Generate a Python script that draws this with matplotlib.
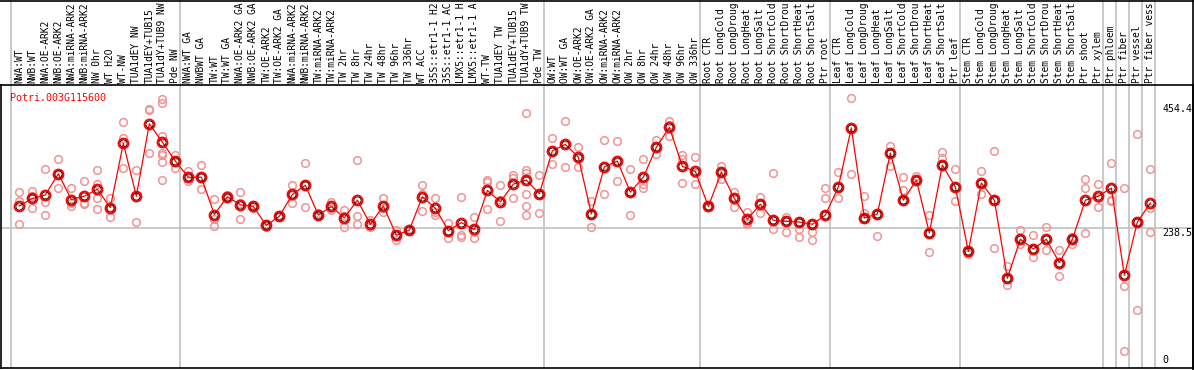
import matplotlib.pyplot as plt
from matplotlib.lines import Line2D

# sample names written along the top (cut to the 14 characters that show)
labels = ["NWA:WT", "NWB:WT", "NWA:OE-ARK2", "NWB:OE-ARK2", "NWA:miRNA-ARK2",
          "NWB:miRNA-ARK2", "NW 0hr", "WT H2O", "WT-NW", "TUA1dEY NW",
          "TUA1dEY+TUB15", "TUA1dY+TUB9 NW", "Pde NW",
          "NWA:WT GA", "NWBWT GA", "TW:WT", "TW:WT GA", "NWA:OE-ARK2 GA",
          "NWB:OE-ARK2 GA", "TW:OE-ARK2", "TW:OE-ARK2 GA", "NWA:miRNA-ARK2",
          "NWB:miRNA-ARK2", "TW:miRNA-ARK2", "TW:miRNA-ARK2", "TW 2hr",
          "TW 8hr", "TW 24hr", "TW 48hr", "TW 96hr", "TW 336hr", "WT ACC",
          "35S::etr1-1 H2", "35S::etr1-1 AC", "LMX5::etr1-1 H",
          "LMX5::etr1-1 A", "WT-TW", "TUA1dEY TW", "TUA1dEY+TUB15",
          "TUA1dY+TUB9 TW", "Pde TW",
          "OW:WT", "OW:WT GA", "OW:OE-ARK2", "OW:OE-ARK2 GA", "OW:miRNA-ARK2",
          "OW:miRNA-ARK2", "OW 2hr", "OW 8hr", "OW 24hr", "OW 48hr",
          "OW 96hr", "OW 336hr",
          "Root CTR", "Root LongCold", "Root LongDroug", "Root LongHeat",
          "Root LongSalt", "Root ShortCold", "Root ShortDrou",
          "Root ShortHeat", "Root ShortSalt", "Ptr root",
          "Leaf CTR", "Leaf LongCold", "Leaf LongDroug", "Leaf LongHeat",
          "Leaf LongSalt", "Leaf ShortCold", "Leaf ShortDrou",
          "Leaf ShortHeat", "Leaf ShortSalt", "Ptr leaf",
          "Stem CTR", "Stem LongCold", "Stem LongDroug", "Stem LongHeat",
          "Stem LongSalt", "Stem ShortCold", "Stem ShortDrou",
          "Stem ShortHeat", "Stem ShortSalt", "Ptr shoot", "Ptr xylem",
          "Ptr phloem", "Ptr fiber", "Ptr vessel", "Ptr fiber vess"]

# mean value of each sample (red line)
means = [277, 290, 296, 333, 288, 294, 306, 274, 386, 294,
         420, 388, 355,
         327, 327, 262, 293, 279, 276, 243, 259, 297, 313, 261, 276,
         256, 287, 245, 277, 226, 235, 293, 273, 234, 248, 236, 304,
         284, 315, 322, 298,
         373, 384, 362, 263, 345, 355, 301, 327, 379, 414, 346, 337,
         276, 336, 290, 254, 280, 252, 250, 249, 245, 261,
         310, 413, 256, 263, 369, 287, 322, 230, 348, 310,
         198, 317, 287, 151, 219, 202, 219, 178, 219, 287, 294,
         308, 156, 249, 282]

# single replicates (pale circles)
reps = [[301, 285, 245], [303, 295, 273], [341, 284, 261], [359, 308, 332],
        [308, 282, 276], [320, 282, 280], [339, 315, 291, 271], [291, 257, 275],
        [423, 395, 343], [339, 249, 293], [446, 444, 369],
        [463, 456, 398, 369, 365, 353, 322], [366, 343, 356],
        [338, 321, 327], [348, 306, 327], [289, 255, 242], [293, 296, 290],
        [301, 254, 282], [278, 274, 275], [245, 241, 243], [259, 261, 258],
        [313, 282, 296], [351, 275, 314], [265, 259, 261], [283, 270, 274],
        [270, 240, 260], [357, 259, 245], [253, 241, 242], [291, 267, 274],
        [235, 217, 227], [236, 233, 236], [313, 268, 298], [290, 261, 267],
        [248, 233, 221], [292, 226, 222], [257, 221, 232], [319, 271, 322],
        [313, 288, 251], [331, 290, 325],
        [439, 339, 335, 298, 277, 261], [331, 265, 298],
        [396, 350, 372], [425, 345, 383], [380, 345, 361], [286, 240, 263],
        [391, 298, 346], [390, 320, 354], [341, 261, 301], [359, 315, 308],
        [391, 367, 379], [425, 399, 418], [365, 358, 317], [362, 315, 334],
        [277, 275, 276], [347, 323, 337], [302, 275, 293], [267, 245, 248],
        [293, 265, 282], [335, 237, 252], [258, 232, 250], [237, 222, 249],
        [218, 232, 245], [308, 290, 261],
        [336, 290, 310], [465, 333, 413], [295, 265, 256], [224, 263, 263],
        [382, 346, 369], [327, 304, 287], [329, 322, 322], [262, 196, 230],
        [371, 361, 348], [341, 285, 310],
        [197, 193, 198], [338, 298, 317], [373, 204, 287], [172, 139, 151],
        [235, 210, 219], [226, 188, 202], [240, 200, 219], [200, 155, 178],
        [223, 210, 219], [323, 309, 229], [316, 275, 291],
        [351, 285, 287], [309, 137, 24], [403, 95, 249], [341, 273, 232]]

# first sample of each grey-lined block, last entry closes the chart
group_starts = [0, 13, 41, 53, 63, 73, 84, 85, 86, 87, 88]

gene = "Potri.003G115600"
ytick_vals = [454.4, 238.5, 0]
ytick_text = ["454.4", "238.5", "0"]

mono = "DejaVu Sans Mono"
grey = "#c0c0c0"

fig = plt.figure(figsize=(11.94, 3.70), dpi=100)
ax = fig.add_axes([1 / 1194, 2 / 370, 1192 / 1194, 283 / 370])

x = list(range(len(labels)))

# grey separators, running all the way up through the labels
for g in group_starts:
    ax.axvline(g - 0.65, ymin=0, ymax=368 / 283, color=grey, lw=1.2, clip_on=False, zorder=0)
ax.axhline(238.5, color=grey, lw=1.2, zorder=0)

# replicates first so the means sit on top
for i in x:
    ax.plot([i] * len(reps[i]), reps[i], "o", ls="none", ms=5.5, mfc="none",
            mec="#f09494", mew=1.1, zorder=2)

# mean line, red ring with a dark inner ring
ax.plot(x, means, color="red", lw=0.9, marker="o", ms=7.2, mfc="none",
        mec="red", mew=1.3, zorder=3)
ax.plot(x, means, ls="none", marker="o", ms=5.2, mfc="none",
        mec="#400000", mew=0.7, zorder=4)

ax.set_xlim(-1.41, 90.28)
ax.set_ylim(-5.2, 487.5)
ax.set_xticks([])
ax.set_yticks([])
for s in ax.spines.values():
    s.set_color("black")
    s.set_linewidth(1.2)

# outer frame over the label strip: top edge and right edge
fig.add_artist(Line2D([0, 1], [369.4 / 370, 369.4 / 370], color="black", lw=1.2))
fig.add_artist(Line2D([1193 / 1194, 1193 / 1194], [0, 1], color="black", lw=1.2))

# names on top, reading upwards
for i in x:
    ax.text(i, 1 + 2 / 283, labels[i], rotation=90, ha="center", va="bottom",
            fontsize=6.9, family=mono, transform=ax.get_xaxis_transform(),
            clip_on=False)

# value labels on the right
for v, t in zip(ytick_vals, ytick_text):
    ax.text(0.9745, v, t, ha="left", va="bottom" if v == 0 else "top",
            fontsize=7.2, family=mono, transform=ax.get_yaxis_transform())

ax.text(0.0072, 0.972, gene, color="red", ha="left", va="top", fontsize=7.2,
        family=mono, transform=ax.transAxes)

fig.savefig("out.png", dpi=100)
